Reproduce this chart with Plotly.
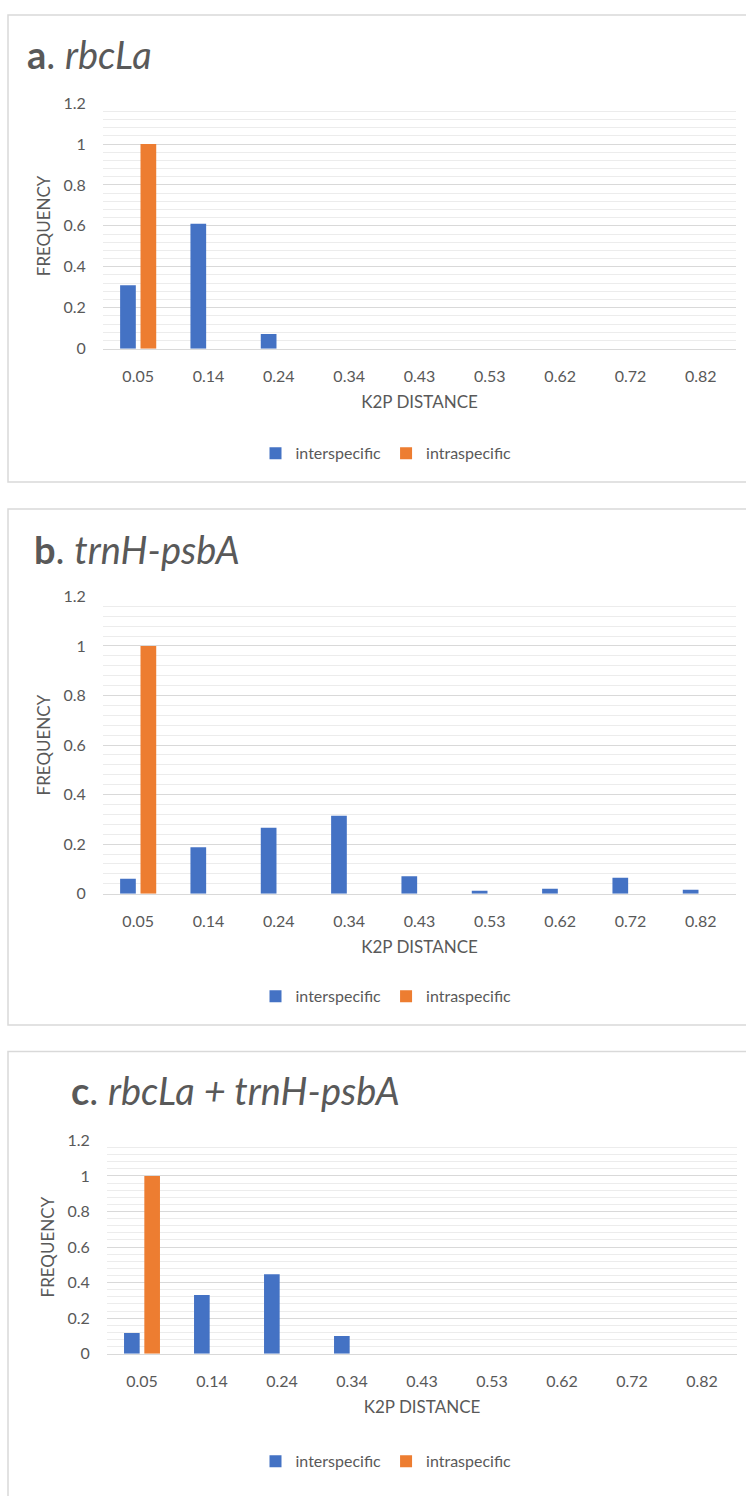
import plotly.graph_objects as go

# ---------------- data ----------------
categories = ["0.05", "0.14", "0.24", "0.34", "0.43", "0.53", "0.62", "0.72", "0.82"]

a_inter = [0.31, 0.61, 0.071, 0, 0, 0, 0, 0, 0]
a_intra = [1.0, 0, 0, 0, 0, 0, 0, 0, 0]

b_inter = [0.06, 0.187, 0.266, 0.315, 0.07, 0.012, 0.02, 0.064, 0.016]
b_intra = [1.0, 0, 0, 0, 0, 0, 0, 0, 0]

c_inter = [0.116, 0.331, 0.447, 0.099, 0, 0, 0, 0, 0]
c_intra = [1.0, 0, 0, 0, 0, 0, 0, 0, 0]

series_names = ["interspecific", "intraspecific"]
panel_titles = ["<b>a</b>. <i>rbcLa</i>", "<b>b</b>. <i>trnH-psbA</i>", "<b>c</b>. <i>rbcLa + trnH-psbA</i>"]
x_title = "K2P DISTANCE"
y_title = "FREQUENCY"

# ---------------- style ----------------
W, H = 746, 1496
BLUE = "#4472C4"
ORANGE = "#ED7D31"
TXT = "#595959"
GRID = "#D9D9D9"
MINOR = "#ECECEC"
FONT = "Lato, Carlito, sans-serif"


def fx(px):
    return px / W


def fy(py):
    return 1 - py / H


# pixel layout of each panel
panels = [
    dict(x0=103, x1=736, top=94.3, bottom=343, legend_y=449, title_x=25, title_y=45,
         box=(8, 5, 762, 478), inter=a_inter, intra=a_intra),
    dict(x0=103, x1=736, top=594, bottom=895, legend_y=999, title_x=32, title_y=546,
         box=(8, 505.5, 762, 1028), inter=b_inter, intra=b_intra),
    dict(x0=107, x1=737, top=1145, bottom=1361, legend_y=1470, title_x=69, title_y=1094,
         box=(8, 1055, 762, 1520), inter=c_inter, intra=c_intra),
]

fig = go.Figure()
layout = dict(
    width=W, height=H,
    margin=dict(l=0, r=0, t=0, b=0),
    paper_bgcolor="white", plot_bgcolor="white",
    barmode="group", bargap=0.42, bargroupgap=0.23,
    font=dict(family=FONT, color=TXT, size=16),
)
annotations = []
shapes = []

for i, p in enumerate(panels):
    k = "" if i == 0 else str(i + 1)
    xa, ya = "x" + k, "y" + k
    leg = "legend" + k
    fig.add_trace(go.Bar(x=categories, y=p["inter"], name=series_names[0],
                         marker=dict(color=BLUE, line=dict(width=0)),
                         xaxis=xa, yaxis=ya, legend=leg))
    fig.add_trace(go.Bar(x=categories, y=p["intra"], name=series_names[1],
                         marker=dict(color=ORANGE, line=dict(width=0)),
                         xaxis=xa, yaxis=ya, legend=leg))

    layout["xaxis" + k] = dict(
        domain=[fx(p["x0"]), fx(p["x1"])], anchor=ya, type="category",
        showgrid=False, showline=True, linecolor=GRID, linewidth=1,
        ticks="outside", ticklen=13, tickcolor="rgba(0,0,0,0)",
        tickfont=dict(size=16, color=TXT),
        title=dict(text=x_title, font=dict(size=17, color=TXT), standoff=12),
        fixedrange=True,
    )
    layout["yaxis" + k] = dict(
        domain=[fy(p["bottom"]), fy(p["top"])], anchor=xa,
        range=[0, 1.2], dtick=0.2, tick0=0,
        showgrid=True, gridcolor=GRID, gridwidth=1, zeroline=False,
        minor=dict(dtick=0.04, showgrid=True, gridcolor=MINOR, gridwidth=1),
        ticks="outside", ticklen=13, tickcolor="rgba(0,0,0,0)",
        tickfont=dict(size=16, color=TXT),
        title=dict(text=y_title, font=dict(size=17, color=TXT), standoff=8),
        fixedrange=True,
    )
    layout[leg] = dict(
        orientation="h", x=fx(386), xanchor="center",
        y=fy(p["legend_y"]), yanchor="middle",
        font=dict(size=16, color=TXT), bgcolor="rgba(0,0,0,0)",
        itemwidth=30, traceorder="normal",
    )
    annotations.append(dict(
        text=panel_titles[i], xref="paper", yref="paper",
        x=fx(p["title_x"]), y=fy(p["title_y"]), xanchor="left", yanchor="middle",
        showarrow=False, font=dict(size=38, color=TXT, family=FONT),
    ))
    bx0, by0, bx1, by1 = p["box"]
    shapes.append(dict(type="rect", xref="paper", yref="paper",
                       x0=fx(bx0), x1=fx(bx1), y0=fy(by1), y1=fy(by0),
                       line=dict(color=GRID, width=1.5), fillcolor="rgba(0,0,0,0)", layer="below"))

layout["annotations"] = annotations
layout["shapes"] = shapes
fig.update_layout(**layout)

fig.write_html(
    "out.html",
    config=dict(displayModeBar=False),
    post_script="document.body.style.margin='0';document.body.style.overflow='hidden';",
)
